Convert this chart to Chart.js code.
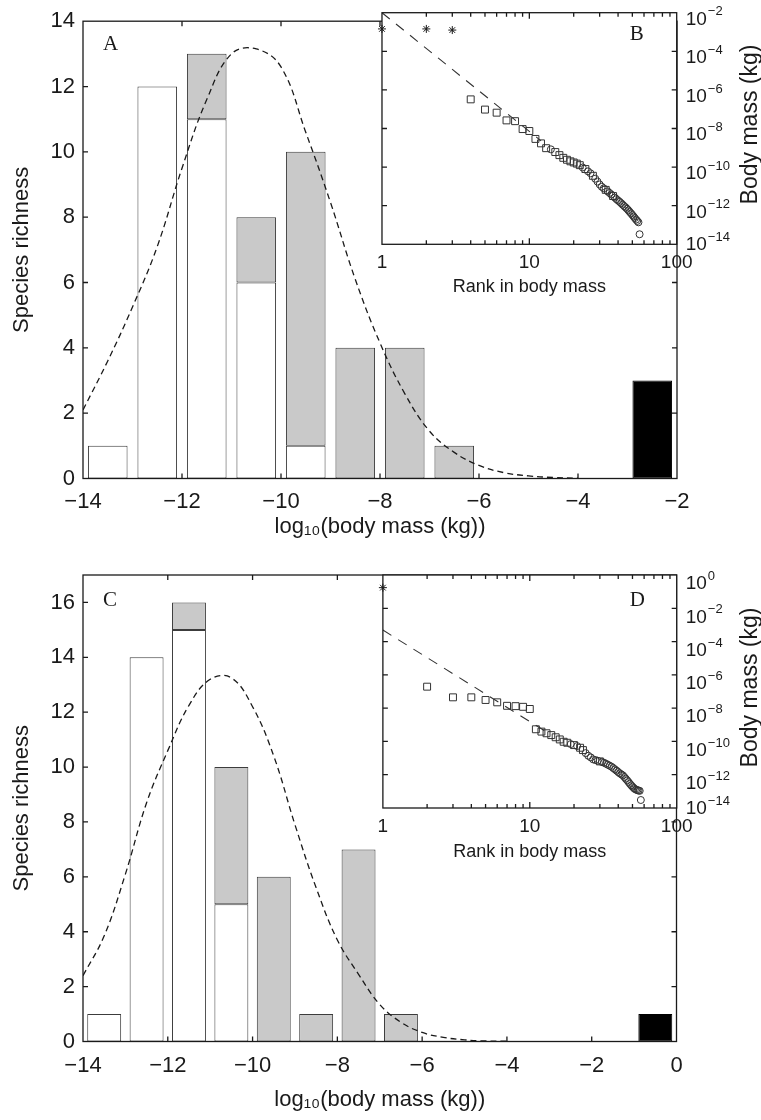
<!DOCTYPE html>
<html>
<head>
<meta charset="utf-8">
<script src="https://cdn.jsdelivr.net/npm/chart.js@4.4.1/dist/chart.umd.min.js"></script>
<style>
  html, body { margin: 0; padding: 0; background: #fff; }
  #page { position: relative; width: 761px; height: 1120px; overflow: hidden; }
  .box { position: absolute; }
</style>
</head>
<body>
<div id="page">
  <div class="box" style="left:0;top:0;width:761px;height:540px"><canvas id="histA"></canvas></div>
  <div class="box" style="left:370px;top:0;width:391px;height:300px"><canvas id="rankB"></canvas></div>
  <div class="box" style="left:0;top:540px;width:761px;height:580px"><canvas id="histC"></canvas></div>
  <div class="box" style="left:370px;top:540px;width:391px;height:330px"><canvas id="rankD"></canvas></div>
</div>
<script>
Chart.defaults.font.family = '"Liberation Sans", Arial, sans-serif';
Chart.defaults.color = '#1a1a1a';
Chart.defaults.animation = false;

// histogram bins (log10 body mass), species per bin
const binCentres = [-13.5, -12.5, -11.5, -10.5, -9.5, -8.5, -7.5, -6.5];
const whiteA = [1, 12, 11, 6, 1, 0, 0, 0];
const greyA = [0, 0, 2, 2, 9, 4, 4, 1];
const blackBinA = [-2.5];
const blackA = [3];
const whiteC = [1, 14, 15, 5, 0, 0, 0, 0];
const greyC = [0, 0, 1, 5, 6, 1, 7, 1];
const blackBinC = [-0.5];
const blackC = [1];

// dashed curves every half unit
const curveX = [-14, -13.5, -13, -12.5, -12, -11.5, -11, -10.5, -10, -9.5, -9, -8.5, -8, -7.5, -7, -6.5, -6, -5.5, -5, -4.5, -4];
const curveA = [2.1, 3.6, 5.25, 7.1, 9.5, 11.6, 13.0, 13.15, 12.6, 10.6, 8.45, 6.1, 4.15, 2.6, 1.45, 0.8, 0.4, 0.18, 0.08, 0.03, 0.01];
const curveC = [2.4, 3.85, 6.1, 8.7, 10.6, 12.25, 13.2, 13.25, 12.2, 10.4, 7.9, 5.6, 3.7, 2.45, 1.35, 0.7, 0.33, 0.15, 0.06, 0.02, 0.01];

const xTicksA = [-14, -12, -10, -8, -6, -4, -2];
const yTicksA = [0, 2, 4, 6, 8, 10, 12, 14];
const xTicksC = [-14, -12, -10, -8, -6, -4, -2, 0];
const yTicksC = [0, 2, 4, 6, 8, 10, 12, 14, 16];

// insets: log10 body mass by rank (rank = index + 1)
const bMassLog = [-2.84, -2.84, -2.9, -6.49, -7.02, -7.18, -7.58, -7.62, -8.03, -8.13,
  -8.54, -8.77, -9.02, -9.08, -9.22, -9.38, -9.52, -9.62, -9.70, -9.76,
  -9.82, -9.90, -10.02, -10.10, -10.22, -10.32, -10.45, -10.60, -10.75, -10.90,
  -11.02, -11.10, -11.18, -11.26, -11.34, -11.42, -11.50, -11.58, -11.66, -11.73,
  -11.80, -11.87, -11.95, -12.02, -12.09, -12.16, -12.24, -12.32, -12.40, -12.48,
  -12.56, -12.64, -12.72, -12.79, -12.86, -13.48];
const bStars = [1, 2, 3];
const bSquares = [4, 5, 6, 7, 8, 9, 10, 11, 12, 13, 15, 16, 17, 18, 19, 20, 21, 22, 24, 27, 33, 37];
const fitRankB = [1, 12];
const fitMassB = [-2.0, -8.64];

const dMassLog = [-0.76, -6.71, -7.35, -7.35, -7.51, -7.65, -7.86, -7.88, -7.92, -8.05,
  -9.27, -9.41, -9.51, -9.62, -9.75, -9.88, -10.02, -10.08, -10.16, -10.22,
  -10.28, -10.38, -10.52, -10.70, -10.86, -10.96, -11.08, -11.12, -11.16, -11.20,
  -11.24, -11.28, -11.34, -11.40, -11.46, -11.52, -11.60, -11.68, -11.76, -11.84,
  -11.92, -11.98, -12.04, -12.14, -12.24, -12.34, -12.44, -12.54, -12.64, -12.72,
  -12.80, -12.86, -12.90, -12.93, -12.95, -12.97, -13.52];
const dStars = [1];
const dSquares = [2, 3, 4, 5, 6, 7, 8, 9, 10, 11, 12, 13, 14, 15, 16, 17, 18, 20, 22, 23, 30];
const fitRankD = [1, 13];
const fitMassD = [-3.31, -9.43];

const rankTicks = [1, 10, 100];
const rankMinor = [2, 3, 4, 5, 6, 7, 8, 9, 20, 30, 40, 50, 60, 70, 80, 90];
const massExpB = [-2, -4, -6, -8, -10, -12, -14];
const massExpD = [0, -2, -4, -6, -8, -10, -12, -14];

const minus = v => String(v).replace('-', '\u2212');

// box round the plot + ticks pointing inwards on all four sides
function frame(xMarks, yMarks, fill) {
  return {
    id: 'frame',
    beforeDraw(chart) {
      if (!fill) return;
      const { ctx, chartArea: a } = chart;
      ctx.save();
      ctx.fillStyle = fill;
      ctx.fillRect(a.left, a.top, a.width, a.height);
      ctx.restore();
    },
    afterDraw(chart) {
      const { ctx, chartArea: a, scales: { x, y } } = chart;
      ctx.save();
      ctx.strokeStyle = '#1a1a1a';
      ctx.lineWidth = 1.3;
      ctx.beginPath();
      xMarks.forEach(([v, len]) => {
        const px = x.getPixelForValue(v);
        ctx.moveTo(px, a.bottom); ctx.lineTo(px, a.bottom - len);
        ctx.moveTo(px, a.top); ctx.lineTo(px, a.top + len);
      });
      yMarks.forEach(([v, len]) => {
        const py = y.getPixelForValue(v);
        ctx.moveTo(a.left, py); ctx.lineTo(a.left + len, py);
        ctx.moveTo(a.right, py); ctx.lineTo(a.right - len, py);
      });
      ctx.stroke();
      ctx.strokeRect(a.left, a.top, a.width, a.height);
      ctx.restore();
    }
  };
}

function letter(text, fromRight, dx, dy) {
  return {
    id: 'letter',
    afterDraw(chart) {
      const { ctx, chartArea: a } = chart;
      ctx.save();
      ctx.font = '21px "Liberation Serif", "DejaVu Serif", serif';
      ctx.fillStyle = '#1a1a1a';
      ctx.textBaseline = 'middle';
      ctx.fillText(text, fromRight ? a.right - dx : a.left + dx, a.top + dy);
      ctx.restore();
    }
  };
}

// right-hand axis of the insets: 10 with a raised exponent, title reading upwards
function powerAxis(exps, shift, lastShift, titleX) {
  return {
    id: 'powerAxis',
    afterDraw(chart) {
      const { ctx, chartArea: a, scales: { y } } = chart;
      ctx.save();
      ctx.fillStyle = '#1a1a1a';
      ctx.textBaseline = 'middle';
      ctx.textAlign = 'left';
      exps.forEach((e, i) => {
        const py = y.getPixelForValue(Math.pow(10, e)) + (i === exps.length - 1 ? lastShift : shift);
        const x0 = a.right + 9;
        ctx.font = '19px "Liberation Sans", Arial, sans-serif';
        ctx.fillText('10', x0, py);
        const w = ctx.measureText('10').width;
        ctx.font = '13px "Liberation Sans", Arial, sans-serif';
        ctx.fillText(minus(e), x0 + w + 1, py - 7.5);
      });
      ctx.font = '23px "Liberation Sans", Arial, sans-serif';
      ctx.translate(titleX, (a.top + a.bottom) / 2 - 4);
      ctx.rotate(-Math.PI / 2);
      ctx.textAlign = 'center';
      ctx.fillText('Body mass (kg)', 0, 0);
      ctx.restore();
    }
  };
}

function histogram(id, white, grey, blackBin, black, curve, g) {
  const whiteData = binCentres.map((x, i) => ({ x, y: white[i] })).filter(d => d.y > 0);
  const greyData = binCentres.map((x, i) => ({ x, y: [white[i], white[i] + grey[i]], n: grey[i] })).filter(d => d.n > 0);
  const blackData = blackBin.map((x, i) => ({ x, y: black[i] }));
  const bar = { grouped: false, categoryPercentage: 0.8, barPercentage: 1, borderWidth: 1, borderColor: '#3c3c3c', borderSkipped: false, order: 1 };
  const inner = arr => arr.slice(1, -1);

  return new Chart(document.getElementById(id), {
    type: 'bar',
    data: {
      datasets: [
        { ...bar, data: whiteData, backgroundColor: '#ffffff' },
        { ...bar, data: greyData, backgroundColor: '#c9c9c9' },
        { ...bar, data: blackData, backgroundColor: '#000000', borderColor: '#000000' },
        {
          type: 'line', order: 0, data: curveX.map((x, i) => ({ x, y: curve[i] })),
          borderColor: '#1a1a1a', borderWidth: 1.3, borderDash: [6, 4],
          pointRadius: 0, tension: 0.4, fill: false
        }
      ]
    },
    options: {
      responsive: true,
      maintainAspectRatio: false,
      events: [],
      layout: { padding: { left: 0, top: g.top, right: g.right, bottom: 0 } },
      plugins: { legend: { display: false }, tooltip: { enabled: false } },
      scales: {
        x: {
          type: 'linear', min: g.xTicks[0], max: g.xTicks[g.xTicks.length - 1], offset: false,
          grid: { display: false, drawTicks: false, offset: false }, border: { display: false },
          afterBuildTicks: s => { s.ticks = g.xTicks.map(v => ({ value: v })); },
          ticks: { callback: v => minus(v), font: { size: 22 }, padding: g.tickPad, autoSkip: false, maxRotation: 0 },
          title: { display: true, text: 'log\u2081\u2080(body mass (kg))', font: { size: 22 }, padding: { top: g.titlePad, bottom: g.titlePad } },
          afterFit: s => { s.height = g.xHeight; }
        },
        y: {
          min: 0, max: g.yMax,
          grid: { display: false, drawTicks: false }, border: { display: false },
          afterBuildTicks: s => { s.ticks = g.yTicks.map(v => ({ value: v })); },
          ticks: { font: { size: 22 }, padding: 8 },
          title: { display: true, text: 'Species richness', font: { size: 22 }, padding: { top: 8.5, bottom: 0 } },
          afterFit: s => { s.width = 83; }
        }
      }
    },
    plugins: [
      frame(inner(g.xTicks).map(v => [v, 5]), inner(g.yTicks).concat(g.yTicks[g.yTicks.length - 1] < g.yMax ? [g.yTicks[g.yTicks.length - 1]] : []).map(v => [v, 5]), null),
      letter(g.letter, false, 20, g.letterDy)
    ]
  });
}

function rankPlot(id, massLog, stars, squares, fitRank, fitMass, exps, g) {
  const pt = r => ({ x: r, y: Math.pow(10, massLog[r - 1]) });
  const ranks = massLog.map((v, i) => i + 1);
  const circles = ranks.filter(r => !stars.includes(r) && !squares.includes(r));
  const marks = { borderColor: '#333', backgroundColor: 'rgba(0,0,0,0)', borderWidth: 1, clip: false };
  const yMin = Math.pow(10, exps[exps.length - 1]);
  const yMax = Math.pow(10, exps[0]);

  return new Chart(document.getElementById(id), {
    type: 'scatter',
    data: {
      datasets: [
        { ...marks, data: stars.map(pt), pointStyle: 'star', pointRadius: 4, borderColor: '#1a1a1a' },
        { ...marks, data: squares.map(pt), pointStyle: 'rect', pointRadius: 4.9 },
        { ...marks, data: circles.map(pt), pointStyle: 'circle', pointRadius: 3.5 },
        {
          type: 'line', data: fitRank.map((r, i) => ({ x: r, y: Math.pow(10, fitMass[i]) })),
          borderColor: '#333', borderWidth: 1.1, borderDash: [10, 8], pointRadius: 0, fill: false
        }
      ]
    },
    options: {
      responsive: true,
      maintainAspectRatio: false,
      events: [],
      layout: { padding: { left: 10, top: g.top, right: 84.3, bottom: 0 } },
      plugins: { legend: { display: false }, tooltip: { enabled: false } },
      scales: {
        x: {
          type: 'logarithmic', min: 1, max: 100, position: 'bottom',
          grid: { display: false, drawTicks: false }, border: { display: false },
          afterBuildTicks: s => { s.ticks = rankTicks.map(v => ({ value: v })); },
          ticks: { callback: v => String(v), font: { size: 19 }, padding: g.tickPad, autoSkip: false, maxRotation: 0 },
          title: { display: true, text: 'Rank in body mass', font: { size: 18 }, padding: { top: g.titlePad, bottom: g.titlePad } },
          afterFit: s => { s.height = g.xHeight; }
        },
        y: { type: 'logarithmic', display: false, min: yMin, max: yMax }
      }
    },
    plugins: [
      frame(rankMinor.map(v => [v, 4]).concat([[10, 6]]), exps.slice(1, -1).map(e => [Math.pow(10, e), 5]), '#ffffff'),
      powerAxis(exps, g.shift, 0.5, 381),
      letter(g.letter, true, 47, g.letterDy)
    ]
  });
}

histogram('histA', whiteA, greyA, blackBinA, blackA, curveA,
  { xTicks: xTicksA, yTicks: yTicksA, yMax: 14, top: 12.5, right: 84, xHeight: 61.5, tickPad: 10.3, titlePad: 0, letter: 'A', letterDy: 23 });
histogram('histC', whiteC, greyC, blackBinC, blackC, curveC,
  { xTicks: xTicksC, yTicks: yTicksC, yMax: 17, top: 35, right: 84.5, xHeight: 78.5, tickPad: 11.3, titlePad: 7, letter: 'C', letterDy: 25 });
rankPlot('rankB', bMassLog, bStars, bSquares, fitRankB, fitMassB, massExpB,
  { top: 12.7, xHeight: 55.7, tickPad: 6.7, titlePad: 1.7, shift: 6.7, letter: 'B', letterDy: 22 });
rankPlot('rankD', dMassLog, dStars, dSquares, fitRankD, fitMassD, massExpD,
  { top: 35, xHeight: 62, tickPad: 7.6, titlePad: 6.7, shift: 9, letter: 'D', letterDy: 25 });
</script>
</body>
</html>
